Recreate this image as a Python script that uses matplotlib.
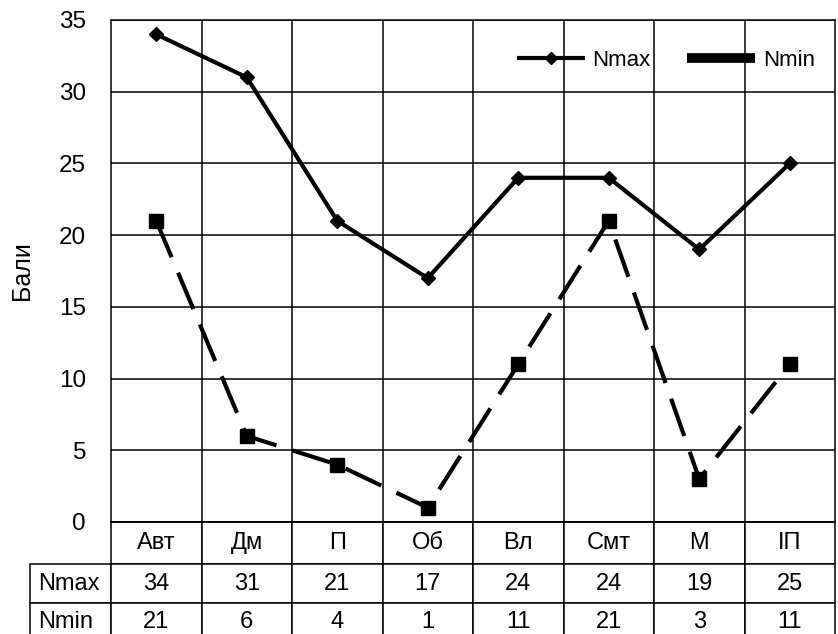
import matplotlib
matplotlib.use('Agg')
import matplotlib.pyplot as plt
from matplotlib.lines import Line2D
from matplotlib.table import Table

plt.rcParams['font.family'] = ['Liberation Sans', 'DejaVu Sans']

categories = ['Авт', 'Дм', 'П', 'Об', 'Вл', 'Смт', 'М', 'ІП']
n_max = [34, 31, 21, 17, 24, 24, 19, 25]
n_min = [21, 6, 4, 1, 11, 21, 3, 11]
y_ticks = [0, 5, 10, 15, 20, 25, 30, 35]

W, H = 838, 634
fig = plt.figure(figsize=(W / 100, H / 100), dpi=100)
# plot area in pixels: x 111..835, y 20..522
ax = fig.add_axes([111 / W, (H - 522) / H, 724 / W, 502 / H])

x = list(range(len(categories)))
ax.plot(x, n_max, color='black', lw=3, marker='D', ms=7.5, zorder=3)
ax.plot(x, n_min, color='black', lw=3, ls=(0, (9.5, 4)), marker='s', ms=9.5, zorder=3)

ax.set_xlim(-0.5, len(categories) - 0.5)
ax.set_ylim(0, 35)
ax.set_yticks(y_ticks)
ax.set_xticks([i + 0.5 for i in range(len(categories) - 1)], minor=True)
ax.set_xticks([])
ax.tick_params(axis='y', length=0, pad=18, labelsize=17.5)
ax.tick_params(axis='x', which='minor', length=0)
ax.grid(axis='y', color='black', lw=1.1)
ax.grid(axis='x', which='minor', color='black', lw=1.1)
for s in ax.spines.values():
    s.set_linewidth(1.1)
ax.set_ylabel('Бали', fontsize=18, labelpad=18)

# data table under the plot (axes coords); row labels sit left of the bbox
head_h = 42 / 502
row_h = 39 / 502
lab_w = 81 / 724
col_w = 1 / len(categories)
tot_h = head_h + 2 * row_h
tbl = Table(ax, bbox=[0, -tot_h, 1, tot_h])
for j, cat in enumerate(categories):
    tbl.add_cell(0, j, col_w, head_h, text=cat, loc='center')
for i, (name, vals) in enumerate([('Nmax', n_max), ('Nmin', n_min)], start=1):
    tbl.add_cell(i, -1, lab_w, row_h, text=name, loc='left')
    for j, v in enumerate(vals):
        tbl.add_cell(i, j, col_w, row_h, text=str(v), loc='center')
tbl.auto_set_font_size(False)
tbl.set_fontsize(17)
for cell in tbl.get_celld().values():
    cell.set_linewidth(1.1)
ax.add_table(tbl)

handles = [Line2D([], [], color='black', lw=3, marker='D', ms=6, solid_capstyle='butt'),
           Line2D([], [], color='black', lw=7, solid_capstyle='butt')]
ax.legend(handles, ['Nmax', 'Nmin'], loc='upper right', ncol=2, frameon=False,
          fontsize=16, handlelength=3.05, columnspacing=1.65, handletextpad=0.35,
          bbox_to_anchor=(1.0, 0.98))

fig.savefig('out.png', dpi=100)
